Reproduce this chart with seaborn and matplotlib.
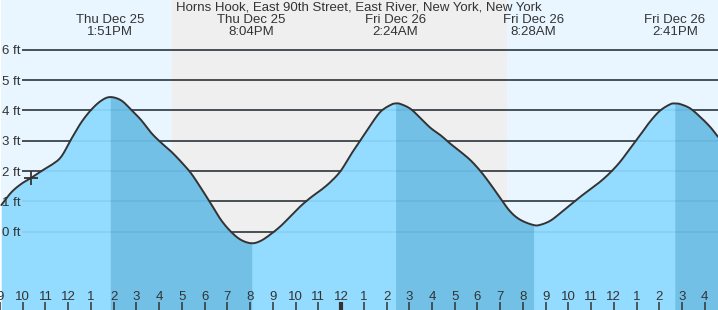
import numpy as np
import pandas as pd
import matplotlib
matplotlib.use("Agg")
import matplotlib.pyplot as plt
import seaborn as sns

# ---- data (hours since Thu Dec 25 00:00) ----
sample_hours = [9.06, 9.50, 9.94, 10.38, 10.82, 11.26, 11.69, 12.13, 12.57, 13.01, 13.45, 13.85,
                14.33, 14.77, 15.21, 15.65, 16.08, 16.52, 16.96, 17.40, 17.84, 18.28, 18.72, 19.16,
                19.60, 20.07, 20.47, 20.91, 21.35, 21.79, 22.23, 22.67, 23.11, 23.55, 23.99, 24.42,
                24.86, 25.30, 25.74, 26.18, 26.40, 26.62, 27.06, 27.50, 27.94, 28.38, 28.81, 29.25,
                29.69, 30.13, 30.57, 31.01, 31.45, 31.89, 32.47, 32.77, 33.20, 33.64, 34.08, 34.52,
                34.96, 35.40, 35.84, 36.28, 36.72, 37.16, 37.59, 38.03, 38.47, 38.68, 38.91, 39.35,
                39.79, 40.23, 40.58]
sample_ft = [0.88, 1.30, 1.58, 1.78, 2.00, 2.20, 2.47, 3.05, 3.60, 4.02, 4.32, 4.44,
             4.33, 4.02, 3.68, 3.26, 2.94, 2.65, 2.31, 1.93, 1.44, 0.92, 0.39, 0.00,
             -0.27, -0.38, -0.30, -0.08, 0.19, 0.52, 0.85, 1.13, 1.37, 1.65, 2.01, 2.53,
             3.02, 3.52, 3.96, 4.18, 4.23, 4.21, 4.05, 3.74, 3.42, 3.18, 2.90, 2.64,
             2.36, 2.00, 1.57, 1.10, 0.66, 0.39, 0.22, 0.23, 0.36, 0.61, 0.88, 1.15,
             1.40, 1.65, 1.95, 2.31, 2.75, 3.19, 3.63, 3.99, 4.20, 4.23, 4.21, 4.07,
             3.79, 3.46, 3.13]

event_hours = [13.85, 20.07, 26.40, 32.47, 38.68]
event_types = ["H", "L", "H", "L", "H"]
event_labels = ["Thu Dec 25\n1:51PM", "Thu Dec 25\n8:04PM", "Fri Dec 26\n2:24AM",
                "Fri Dec 26\n8:28AM", "Fri Dec 26\n2:41PM"]
sunset_hour = 16.57
sunrise_hour = 31.32
now_hour, now_ft = 10.38, 1.76
ft_levels = [0, 1, 2, 3, 4, 5, 6]
tick_hours = list(range(9, 41))
title = "Horns Hook, East 90th Street, East River, New York, New York"

# ---- style ----
sns.set_style("white")
plt.rcParams["font.family"] = ["Liberation Sans", "DejaVu Sans"]
TXT = "#333333"
DAY = "#eaf6ff"
NIGHT = "#efefef"
WATER = "#94dcff"
WATER_DK = "#72c0e6"

XMIN, XMAX = 9.061, 40.58
YMIN, YMAX = -2.58, 7.64

# smooth curve (Catmull-Rom through read points)
def catmull(x, y, n=12):
    x = np.asarray(x, float); y = np.asarray(y, float)
    xp = np.concatenate([[2 * x[0] - x[1]], x, [2 * x[-1] - x[-2]]])
    yp = np.concatenate([[2 * y[0] - y[1]], y, [2 * y[-1] - y[-2]]])
    ox, oy = [], []
    for i in range(1, len(xp) - 2):
        t = np.linspace(0, 1, n, endpoint=False)
        for arr, out in ((xp, ox), (yp, oy)):
            p0, p1, p2, p3 = arr[i - 1], arr[i], arr[i + 1], arr[i + 2]
            out.extend(0.5 * ((2 * p1) + (-p0 + p2) * t + (2 * p0 - 5 * p1 + 4 * p2 - p3) * t ** 2
                              + (-p0 + 3 * p1 - 3 * p2 + p3) * t ** 3))
    ox.append(x[-1]); oy.append(y[-1])
    return np.array(ox), np.array(oy)

fx, fy = catmull(sample_hours, sample_ft)
df = pd.DataFrame({"hour": fx, "ft": fy})

fig = plt.figure(figsize=(7.18, 3.10), dpi=100)
ax = fig.add_axes([0, 0, 1, 1])
ax.set_xlim(XMIN, XMAX)
ax.set_ylim(YMIN, YMAX)

# day / night background
ax.axvspan(XMIN, sunset_hour, color=DAY, zorder=0, lw=0)
ax.axvspan(sunset_hour, sunrise_hour, color=NIGHT, zorder=0, lw=0)
ax.axvspan(sunrise_hour, XMAX, color=DAY, zorder=0, lw=0)

# grid lines
grid_start = 9.98
ax.hlines(ft_levels, grid_start, XMAX, colors="#222222", lw=1.1, zorder=1)

# water fill
ax.fill_between(df["hour"], df["ft"], YMIN, color=WATER, lw=0, zorder=2)
for i, (h, t) in enumerate(zip(event_hours, event_types)):
    if t == "H":
        end = event_hours[i + 1] if i + 1 < len(event_hours) else XMAX
        m = (df["hour"] >= h) & (df["hour"] <= end)
        ax.fill_between(df["hour"][m], df["ft"][m], YMIN, color=WATER_DK, lw=0, zorder=2)

# grid overlay on water
ax.hlines(ft_levels, grid_start, XMAX, colors="#1a6a9a", lw=1.1, alpha=0.12, zorder=3)

# tide curve
sns.lineplot(data=df, x="hour", y="ft", ax=ax, color="#333333", lw=1.4, zorder=4,
             sort=False, estimator=None)

# current position marker
ax.plot([now_hour], [now_ft], marker="+", ms=10, mew=1.3, color="#333333", zorder=5)

# y labels
ax.set_yticks(ft_levels)
ax.set_yticklabels([f"{v} ft" for v in ft_levels], ha="left")
ax.tick_params(axis="y", left=False, length=0, pad=-1.5, labelsize=9.5, labelcolor=TXT)

# x ticks
ax.set_xticks(tick_hours)
ax.set_xticklabels([str(h % 12 if h % 12 else 12) for h in tick_hours])
ax.tick_params(axis="x", bottom=True, direction="in", length=6, width=1.1, color=TXT, pad=-14,
               labelsize=9.5, labelcolor=TXT)
for tk, h in zip(ax.xaxis.get_major_ticks(), tick_hours):
    if h % 24 == 0:
        tk.tick1line.set_markeredgewidth(3)

ax.set_axisbelow(False)
ax.xaxis.set_zorder(10)
ax.yaxis.set_zorder(10)

ax.set_xlabel(""); ax.set_ylabel("")
for s in ax.spines.values():
    s.set_visible(False)

# header labels
ax.text(0.5, 1 - 8 / 310, title, transform=ax.transAxes, ha="center", va="center",
        fontsize=9.5, color=TXT)
for h, lab in zip(event_hours, event_labels):
    ax.text(h, 1 - 26 / 310, lab, transform=ax.get_xaxis_transform(), ha="center",
            va="center", fontsize=9.5, color=TXT, linespacing=1.0)

fig.savefig("out.png", dpi=100)
